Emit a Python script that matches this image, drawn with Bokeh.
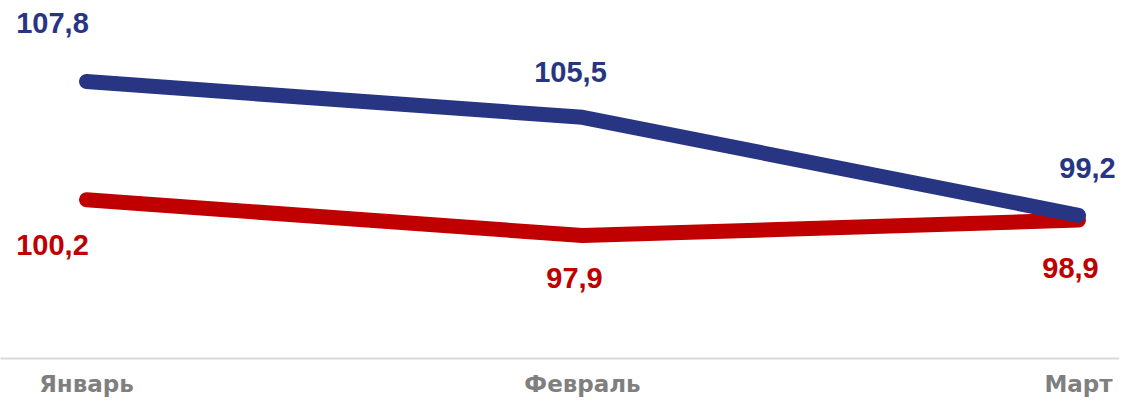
from bokeh.plotting import figure
from bokeh.models import ColumnDataSource, Range1d, FixedTicker
from bokeh.core.properties import value
from bokeh.embed import file_html
from bokeh.resources import INLINE

months = ["Январь", "Февраль", "Март"]
blue_vals = [107.8, 105.5, 99.2]
red_vals = [100.2, 97.9, 98.9]

BLUE = "#283583"
RED = "#C00000"

xs = list(range(len(months)))

# label offsets in screen pixels (style only)
blue_dx = [-34, -12, 9]
blue_dy = [-59, -45, -47]
red_dx = [-34, -8, -8]
red_dy = [45, 42, 48]

W, H = 1119, 399
FRAME_H = 358
PX_PER_UNIT = 15.56
X0, STEP = 86, 496

p = figure(width=W, height=H, output_backend="svg", toolbar_location=None,
           x_range=Range1d(-X0 / STEP, (W - X0) / STEP),
           y_range=Range1d(90, 90 + FRAME_H / PX_PER_UNIT),
           min_border_left=0, min_border_right=0, min_border_top=0,
           min_border_bottom=H - FRAME_H, y_axis_location=None)
p.outline_line_color = None
p.grid.visible = False
p.background_fill_color = "white"
p.border_fill_color = "white"

xa = p.xaxis[0]
xa.ticker = FixedTicker(ticks=xs)
xa.major_label_overrides = {i: m for i, m in enumerate(months)}
xa.axis_line_color = "#D9D9D9"
xa.axis_line_width = 2
xa.major_tick_line_color = None
xa.minor_tick_line_color = None
xa.major_tick_out = 0
xa.major_tick_in = 0
xa.major_label_standoff = 12
xa.major_label_text_font = "DejaVu Sans"
xa.major_label_text_font_style = "bold"
xa.major_label_text_font_size = "23px"
xa.major_label_text_color = "#7F7F7F"

p.line(xs, red_vals, line_color=RED, line_width=15, line_cap="round", line_join="round")
p.line(xs, blue_vals, line_color=BLUE, line_width=15, line_cap="round", line_join="round")

def lab(vals):
    return [f"{v:.1f}".replace(".", ",") for v in vals]

for vals, dx, dy, col in [(blue_vals, blue_dx, blue_dy, BLUE), (red_vals, red_dx, red_dy, RED)]:
    src = ColumnDataSource(dict(x=xs, y=vals, t=lab(vals), dx=dx, dy=dy))
    p.text(x="x", y="y", text="t", x_offset="dx", y_offset="dy", source=src,
           text_font=value("Liberation Sans"), text_font_style="bold",
           text_font_size="29px", text_color=col,
           text_align="center", text_baseline="middle")

open("out.html", "w").write(file_html(p, INLINE))
